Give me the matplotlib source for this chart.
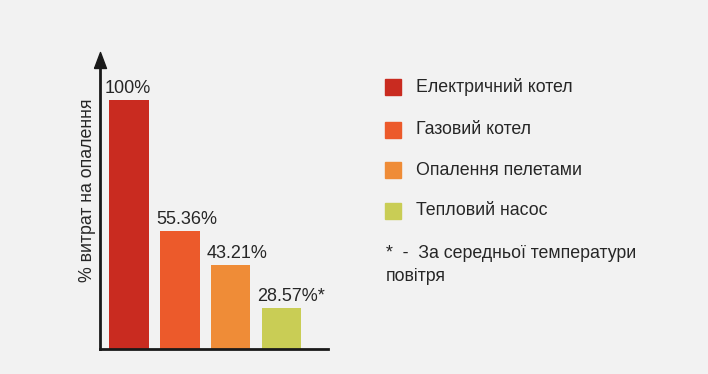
import matplotlib
matplotlib.use("Agg")
import matplotlib.pyplot as plt
from matplotlib.patches import Rectangle

plt.rcParams['font.family'] = ['Liberation Sans', 'DejaVu Sans']

# Data
categories = ['Електричний котел', 'Газовий котел', 'Опалення пелетами', 'Тепловий насос']
value_labels = ['100%', '55.36%', '43.21%', '28.57%*']
# bar heights as drawn in the picture (not to scale with the labels)
bar_heights = [100, 47.4, 33.7, 16.5]
colors = ['#C92B20', '#EC5A2B', '#EF8C37', '#C9CD55']
ylabel = '% витрат на опалення'
footnote = '*  -  За середньої температури\nповітря'

W, H = 708, 374
bg = '#F2F2F2'
txt = '#262626'

fig = plt.figure(figsize=(W / 100, H / 100), dpi=100)
fig.patch.set_facecolor(bg)

def fx(px):
    return px / W

def fy(py):
    return 1 - py / H

# axes spans pixels x 100..328, y 60..349
ax = fig.add_axes([fx(100), fy(349), fx(328) - fx(100), fy(60) - fy(349)])
ax.set_facecolor(bg)

xs = range(len(bar_heights))
ax.bar(xs, bar_heights, width=0.78, color=colors)
ax.set_xlim(-0.571, 3.917)
ax.set_ylim(0, 100 * 289 / 249)

for sp in ['top', 'right']:
    ax.spines[sp].set_visible(False)
for sp in ['left', 'bottom']:
    ax.spines[sp].set_linewidth(2)
    ax.spines[sp].set_color('#1a1a1a')
ax.set_xticks([])
ax.set_yticks([])

# arrow head on y axis
head = [(-6, -8), (6, -8), (0, 8), (-6, -8)]
ax.plot(0, 1, marker=head, markersize=11.5, color='#1a1a1a',
        transform=ax.transAxes, clip_on=False)

for x, h, lab in zip(xs, bar_heights, value_labels):
    ax.annotate(lab, (x - 0.39, h), xytext=(-3, 2), textcoords='offset points',
                ha='left', va='bottom', fontsize=13, color=txt)

fig.text(fx(87), fy(190), ylabel, rotation=90, ha='center', va='center',
         fontsize=12.8, color=txt)

# legend
row_y = [87, 129.5, 170, 210.5]
for name, c, yc in zip(categories, colors, row_y):
    fig.patches.append(Rectangle((fx(385), fy(yc + 8)), 16 / W, 16 / H,
                                 transform=fig.transFigure, color=c))
    fig.text(fx(416), fy(yc), name, ha='left', va='center', fontsize=12.8, color=txt)

fig.text(fx(386), fy(265), footnote, ha='left', va='center', fontsize=12.8,
         color=txt, linespacing=1.4)

fig.savefig('out.png', dpi=100, facecolor=bg)
